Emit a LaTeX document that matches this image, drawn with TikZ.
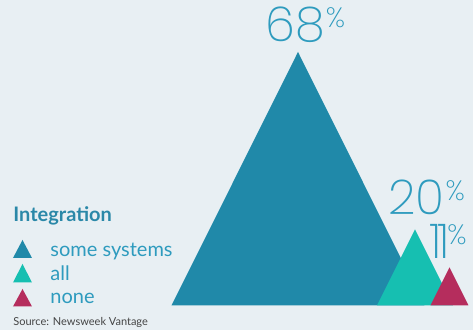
\documentclass[tikz,border=0pt]{standalone}
\usepackage{fontspec}
\setmainfont{Lato}
\newfontfamily\thinfont{Poppins}[UprightFont=* ExtraLight]

\definecolor{bgcol}{HTML}{E8EFF3}
\definecolor{somecol}{HTML}{2089A9}
\definecolor{allcol}{HTML}{16BFB1}
\definecolor{nonecol}{HTML}{B52D5D}
\definecolor{headcol}{HTML}{2A88A8}
\definecolor{labcol}{HTML}{2E9BBE}
\definecolor{srccol}{HTML}{444444}

\tikzset{
  pct/.style={anchor=base west,inner sep=0pt,text depth=0pt,text=labcol,font=\thinfont\fontsize{24}{24}\selectfont},
  leglabel/.style={anchor=base west,inner sep=0pt,text=labcol,font=\fontsize{10}{10}\selectfont}
}
\newcommand{\pctsign}{\kern0.5pt\raisebox{7pt}{\fontsize{14}{14}\selectfont\%}}

\begin{document}
\begin{tikzpicture}[x=0.5pt,y=-0.5pt]

\useasboundingbox (0,0) rectangle (473,330);
\path[fill=bgcol] (0,0) rectangle (473,330);

%some systems
\path[fill=somecol] (171.5,305.5) -- (298,52) -- (424.5,305.5) -- cycle;
\node[pct] (p68) at (265,42) {68\pctsign};

%all
\path[fill=allcol] (377,305.5) -- (415,229.5) -- (453,305.5) -- cycle;
\node[pct] (p20) at (388,215) {20\pctsign};

%none
\path[fill=nonecol] (430.5,305.5) -- (449.5,267.5) -- (468.5,305.5) -- cycle;
\node[pct] (p11) at (429,259) {1\kern-2pt1\kern-2pt\pctsign};

%legend
\node[anchor=base west,inner sep=0pt,text=headcol,font=\bfseries\fontsize{10}{10}\selectfont] (title) at (13,222) {Integration};
\path[fill=somecol] (13,258) -- (22.5,240) -- (32,258) -- cycle;
\node[leglabel] (lsome) at (50,257) {some systems};
\path[fill=allcol] (13,282.5) -- (22.5,264) -- (32,282.5) -- cycle;
\node[leglabel] (lall) at (50,281) {all};
\path[fill=nonecol] (13,306.5) -- (22.5,289) -- (32,306.5) -- cycle;
\node[leglabel] (lnone) at (50,304) {none};

\node[anchor=base west,inner sep=0pt,text=srccol,font=\fontsize{5.5}{5.5}\selectfont] (src) at (13,325.5) {Source: Newsweek Vantage};

\end{tikzpicture}
\end{document}
